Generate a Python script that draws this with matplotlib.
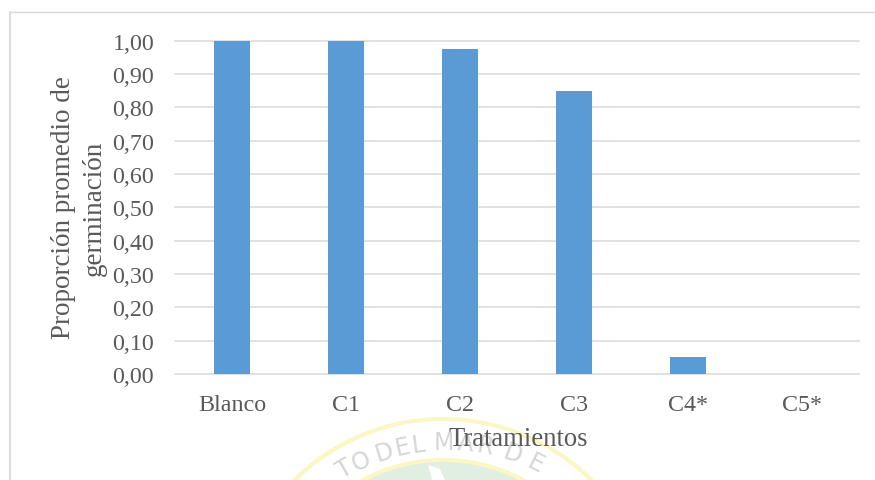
#!/usr/bin/env python3

import matplotlib
matplotlib.use('Agg')
import matplotlib.pyplot as plt
from matplotlib.patches import Circle, Polygon
import numpy as np

W, H = 875, 481

categories = ['Blanco', 'C1', 'C2', 'C3', 'C4*', 'C5*']
germinacion = [1.00, 1.00, 0.975, 0.85, 0.05, 0.00]
y_ticks = [0.0, 0.1, 0.2, 0.3, 0.4, 0.5, 0.6, 0.7, 0.8, 0.9, 1.0]

plt.rcParams['font.family'] = ['Liberation Serif', 'DejaVu Serif']
TEXT = '#595959'
GRID = '#d9d9d9'
BLUE = '#5b9bd5'


def px_axes(fig, left, top, right, bottom):
    return fig.add_axes([left / W, 1 - bottom / H, (right - left) / W, (bottom - top) / H])


def draw_watermark(fig):
    # seal at the bottom, cut off by the page edge
    bg = fig.add_axes([0, 0, 1, 1], zorder=0)
    bg.set_xlim(0, W)
    bg.set_ylim(H, 0)
    bg.axis('off')
    cx, cy = 443, 631
    bg.add_patch(Circle((cx, cy), 211, fc='none', ec='#fbf7c4', lw=3))
    bg.add_patch(Circle((cx, cy), 170, fc='#e0efe2', ec='#fbf7c4', lw=3))
    bg.add_patch(Polygon([(428, 466), (440, 470), (445, 481), (432, 481), (430, 473)], fc='white', ec='none'))
    # letters placed by hand, spacing on the seal is not even
    letters = 'TODELMARDE'
    xs = [345, 361, 384, 403, 418, 444, 466, 485, 513, 535]
    tx, ty, r = 445, 645, 202
    for ch, x in zip(letters, xs):
        ang = np.arcsin((x - tx) / r)
        y = ty - r * np.cos(ang)
        bg.text(x, y, ch, fontsize=17, color='#d6d6d6', family='DejaVu Sans',
                rotation=-np.degrees(ang), ha='center', va='center')


def main():
    fig = plt.figure(figsize=(W / 100, H / 100), dpi=100, facecolor='white')
    draw_watermark(fig)

    # chart frame, left and top only show in the crop
    fig.add_artist(plt.Line2D([9.5 / W, 9.5 / W], [0, 1 - 13 / H], color=GRID, lw=1.3))
    fig.add_artist(plt.Line2D([9.5 / W, 1], [1 - 13 / H, 1 - 13 / H], color=GRID, lw=1))

    ax = px_axes(fig, 175, 41.5, 859, 375)
    ax.patch.set_alpha(0)
    ax.set_zorder(2)
    ax.bar(range(len(categories)), germinacion, width=0.315, color=BLUE, zorder=3)
    ax.set_xlim(-0.5, 5.5)
    ax.set_ylim(0, 1)
    ax.set_yticks(y_ticks)
    ax.set_yticklabels([f'{v:.2f}'.replace('.', ',') for v in y_ticks])
    ax.set_xticks(range(len(categories)))
    ax.set_xticklabels(categories)
    ax.tick_params(length=0, labelsize=17.3, labelcolor=TEXT)
    ax.tick_params(axis='x', pad=14.5)
    ax.tick_params(axis='y', pad=15)
    ax.grid(axis='y', color=GRID, lw=1.1, zorder=0)
    for s in ax.spines.values():
        s.set_visible(False)
    for line in ax.get_ygridlines():
        line.set_clip_on(False)

    fig.text(518 / W, 1 - 440 / H, 'Tratamientos', fontsize=19.2, color=TEXT, ha='center', va='center', zorder=5)
    fig.text(79 / W, 1 - 208 / H, 'Proporción promedio de\ngerminación', fontsize=19.5, color=TEXT,
             rotation=90, ha='center', va='center', linespacing=1.28, multialignment='center')

    fig.savefig('out.png', dpi=100)


if __name__ == "__main__":
    main()
